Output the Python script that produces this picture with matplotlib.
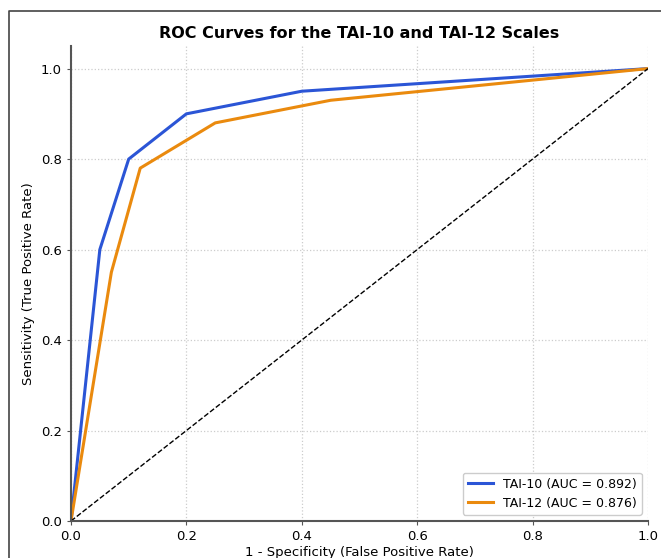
import matplotlib
matplotlib.use("Agg")
import matplotlib.pyplot as plt
from matplotlib.lines import Line2D

# ROC points
fpr_10 = [0.0, 0.05, 0.10, 0.20, 0.40, 1.0]
tpr_10 = [0.0, 0.60, 0.80, 0.90, 0.95, 1.0]
fpr_12 = [0.0, 0.07, 0.12, 0.25, 0.45, 1.0]
tpr_12 = [0.0, 0.55, 0.78, 0.88, 0.93, 1.0]
auc_10 = 0.892
auc_12 = 0.876
ticks = [0.0, 0.2, 0.4, 0.6, 0.8, 1.0]

fig = plt.figure(figsize=(6.61, 5.58), dpi=100)
ax = fig.add_axes([0.1074, 0.0663, 0.8729, 0.8513])

# outer frame of the original screenshot, only left and top edges show
fx = 9 / 661
fy = 1 - 11 / 558
fig.add_artist(Line2D([fx, fx, 1.0], [0.0, fy, fy], transform=fig.transFigure,
                      color="#444444", linewidth=1.2))

ax.plot(fpr_10, tpr_10, color="#2b55d6", lw=2.2,
        label=f"TAI-10 (AUC = {auc_10:.3f})")
ax.plot(fpr_12, tpr_12, color="#ea8a0e", lw=2.2,
        label=f"TAI-12 (AUC = {auc_12:.3f})")
ax.plot([0, 1], [0, 1], color="black", lw=1, linestyle="--")

ax.set_xlim(0, 1)
ax.set_ylim(0, 1.05)
ax.set_xticks(ticks)
ax.set_yticks(ticks)
ax.tick_params(labelsize=9.5, length=3, color="#555555")
ax.grid(True, linestyle=":", color="#cccccc", linewidth=0.9)

for side in ["top", "right"]:
    ax.spines[side].set_visible(False)
for side in ["left", "bottom"]:
    ax.spines[side].set_color("#555555")
    ax.spines[side].set_linewidth(1.5)

ax.set_title("ROC Curves for the TAI-10 and TAI-12 Scales",
             fontsize=11.5, fontweight="bold", pad=6)
ax.set_xlabel("1 - Specificity (False Positive Rate)", fontsize=9.5, labelpad=2)
ax.set_ylabel("Sensitivity (True Positive Rate)", fontsize=9.5)
ax.legend(loc="lower right", fontsize=9, framealpha=1)

fig.savefig("out.png", dpi=100)
